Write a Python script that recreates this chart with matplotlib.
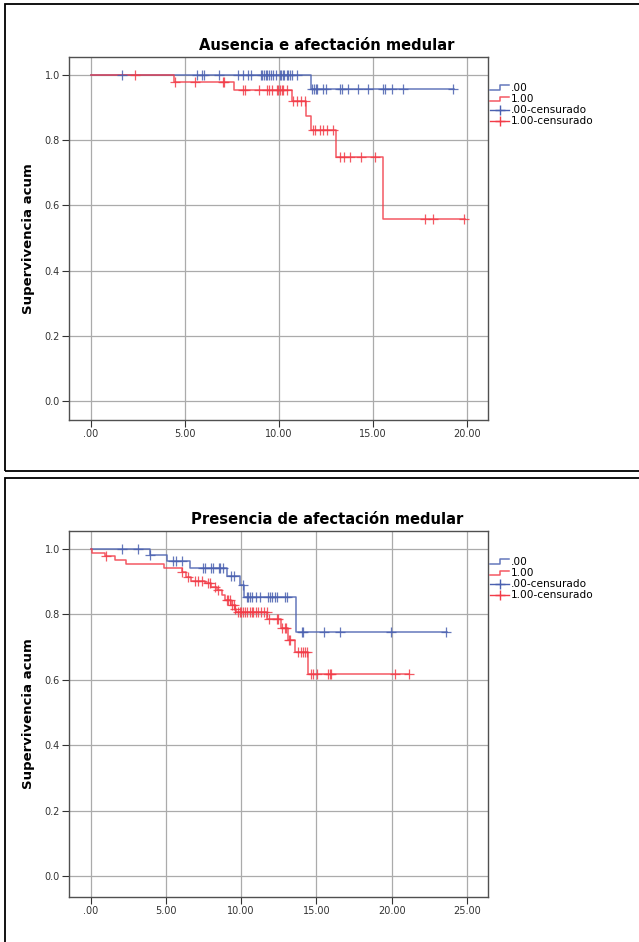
import numpy as np
import matplotlib
matplotlib.use("Agg")
import matplotlib.pyplot as plt
from matplotlib.lines import Line2D
from matplotlib.patches import Rectangle
from matplotlib.legend_handler import HandlerBase

plt.rcParams['font.family'] = ['DejaVu Sans']

# ---------------- Panel 1: Ausencia e afectación medular ----------------
aus_g0_times = [0.0, 11.70]
aus_g0_surv = [1.0, 0.957]
aus_g0_end = 19.3
aus_g0_cens = [1.65, 5.65, 5.90, 6.05, 6.80, 7.85, 8.10, 8.35, 8.55, 9.05, 9.12,
               9.20, 9.30, 9.40, 9.50, 9.60, 9.70, 9.85, 10.05, 10.12, 10.20,
               10.30, 10.42, 10.50, 10.60, 10.72, 10.98, 11.78, 11.87, 11.96,
               12.05, 12.37, 12.49, 13.25, 13.34, 13.69, 14.23, 14.76, 15.52,
               15.64, 16.00, 16.62, 19.27]

aus_g1_times = [0.0, 4.43, 7.62, 10.68, 11.45, 11.69, 13.04, 15.52]
aus_g1_surv = [1.0, 0.979, 0.954, 0.920, 0.874, 0.831, 0.748, 0.558]
aus_g1_end = 19.9
aus_g1_cens = [2.36, 4.50, 5.55, 7.05, 7.10, 8.12, 8.20, 8.96, 9.39, 9.50, 9.62,
               9.89, 9.98, 10.06, 10.15, 10.24, 10.42, 10.78, 10.98, 11.16,
               11.39, 11.84, 11.92, 12.19, 12.37, 12.54, 12.86, 13.25, 13.45,
               13.80, 14.38, 15.10, 17.77, 18.18, 19.86]

# ---------------- Panel 2: Presencia de afectación medular ----------------
pre_g0_times = [0.0, 3.94, 5.07, 6.58, 9.06, 9.95, 10.20, 13.67]
pre_g0_surv = [1.0, 0.982, 0.962, 0.941, 0.918, 0.889, 0.853, 0.747]
pre_g0_end = 23.65
pre_g0_cens = [2.06, 3.12, 3.94, 5.49, 5.65, 6.10, 7.50, 7.60, 8.00, 8.14, 8.50,
               8.62, 8.81, 9.30, 9.52, 10.10, 10.36, 10.47, 10.58, 10.73, 10.96,
               11.26, 11.77, 11.92, 12.08, 12.26, 12.38, 12.90, 13.03, 14.05,
               14.12, 15.53, 16.58, 19.98, 23.63]

pre_g1_times = [0.0, 0.07, 0.95, 1.62, 2.33, 4.87, 6.04, 6.37, 6.66, 7.59, 8.03,
                8.37, 8.70, 8.92, 9.36, 9.58, 9.69, 11.75, 12.63, 13.12, 13.56,
                14.45]
pre_g1_surv = [1.0, 0.989, 0.979, 0.966, 0.954, 0.941, 0.929, 0.915, 0.903,
               0.895, 0.885, 0.875, 0.859, 0.844, 0.829, 0.818, 0.806, 0.785,
               0.759, 0.722, 0.686, 0.619]
pre_g1_end = 21.15
pre_g1_cens = [1.00, 6.10, 6.45, 6.93, 7.15, 7.37, 7.77, 7.92, 8.25, 8.45, 9.03,
               9.14, 9.25, 9.40, 9.50, 9.62, 9.76, 9.91, 10.00, 10.13, 10.25,
               10.42, 10.58, 10.69, 10.80, 11.02, 11.13, 11.35, 11.53, 11.69,
               11.82, 12.35, 12.46, 12.72, 12.90, 13.01, 13.18, 13.25, 13.78,
               13.96, 14.11, 14.23, 14.40, 14.63, 14.78, 15.05, 15.77, 15.89,
               16.00, 20.20, 21.15]

titles = ["Ausencia e afectación medular", "Presencia de afectación medular"]
y_label = "Supervivencia acum"
legend_labels = [".00", "1.00", ".00-censurado", "1.00-censurado"]
y_ticks = [0.0, 0.2, 0.4, 0.6, 0.8, 1.0]
y_tick_labels = ["0.0", "0.2", "0.4", "0.6", "0.8", "1.0"]
x_ticks_top = [0, 5, 10, 15, 20]
x_tick_labels_top = [".00", "5.00", "10.00", "15.00", "20.00"]
x_ticks_bottom = [0, 5, 10, 15, 20, 25]
x_tick_labels_bottom = [".00", "5.00", "10.00", "15.00", "20.00", "25.00"]

BLUE = "#4a60b0"
RED = "#f23c48"

W, H = 639, 942
fig = plt.figure(figsize=(W / 100, H / 100), dpi=100)


def fx(px):
    return px / W


def fy(py):
    return 1 - py / H


class StepHandler(HandlerBase):
    def create_artists(self, legend, orig_handle, xdescent, ydescent,
                       width, height, fontsize, trans):
        x0 = -xdescent
        y0 = -ydescent
        xs = [x0, x0 + 0.55 * width, x0 + 0.55 * width, x0 + width]
        ys = [y0 + 0.2 * height, y0 + 0.2 * height, y0 + 0.75 * height, y0 + 0.75 * height]
        ln = Line2D(xs, ys, color=orig_handle.get_color(),
                    lw=orig_handle.get_linewidth(), alpha=orig_handle.get_alpha())
        ln.set_transform(trans)
        return [ln]


def km_curve(ax, times, surv, end, cens, color):
    t = np.asarray(times, dtype=float)
    s = np.asarray(surv, dtype=float)
    xs = np.append(t, end)
    ys = np.append(s, s[-1])
    ax.step(xs, ys, where='post', color=color, lw=1.1, alpha=0.85, zorder=3)
    c = np.asarray(cens, dtype=float)
    idx = np.searchsorted(t, c, side='right') - 1
    ax.plot(c, s[idx], linestyle='none', marker='+', markersize=6.5,
            markeredgewidth=0.9, color=color, alpha=0.85, zorder=4)


def style_axes(ax, xticks, xlabels, xlim, ylim):
    ax.set_xlim(*xlim)
    ax.set_ylim(*ylim)
    ax.set_xticks(xticks)
    ax.set_xticklabels(xlabels)
    ax.set_yticks(y_ticks)
    ax.set_yticklabels(y_tick_labels)
    ax.grid(True, color="#ababab", lw=0.9)
    ax.set_axisbelow(True)
    ax.tick_params(direction='out', length=5, width=0.8, labelsize=7,
                   colors="#333333", pad=1.5)
    for sp in ax.spines.values():
        sp.set_color("#505050")
        sp.set_linewidth(1.0)
    ax.set_ylabel(y_label, fontsize=9.5, fontweight='bold', color='black')
    ax.yaxis.set_label_coords(-0.096, 0.5)
    ax.yaxis.label.set_verticalalignment('center')


panels = [
    dict(top=57, bottom=420, title_y=45, legend_y=83,
         xticks=x_ticks_top, xlabels=x_tick_labels_top, xlim=(-1.148, 21.12),
         ylim=(-0.058, 1.055),
         curves=[(aus_g0_times, aus_g0_surv, aus_g0_end, aus_g0_cens, BLUE),
                 (aus_g1_times, aus_g1_surv, aus_g1_end, aus_g1_cens, RED)]),
    dict(top=531, bottom=897, title_y=520, legend_y=557,
         xticks=x_ticks_bottom, xlabels=x_tick_labels_bottom, xlim=(-1.435, 26.4),
         ylim=(-0.064, 1.055),
         curves=[(pre_g0_times, pre_g0_surv, pre_g0_end, pre_g0_cens, BLUE),
                 (pre_g1_times, pre_g1_surv, pre_g1_end, pre_g1_cens, RED)]),
]

for title, p in zip(titles, panels):
    ax = fig.add_axes([fx(69), fy(p['bottom']), fx(488 - 69),
                       (p['bottom'] - p['top']) / H])
    for times, surv, end, cens, color in p['curves']:
        km_curve(ax, times, surv, end, cens, color)
    style_axes(ax, p['xticks'], p['xlabels'], p['xlim'], p['ylim'])
    fig.text(fx(327), fy(p['title_y']), title, ha='center', va='center',
             fontsize=10.6, fontweight='bold')

    handles = [
        Line2D([], [], color=BLUE, lw=1.1, alpha=0.85),
        Line2D([], [], color=RED, lw=1.1, alpha=0.85),
        Line2D([], [], color=BLUE, lw=1.0, marker='+', markersize=7, mew=1.0),
        Line2D([], [], color=RED, lw=1.0, marker='+', markersize=7, mew=1.0),
    ]
    hmap = {handles[0]: StepHandler(), handles[1]: StepHandler()}
    fig.legend(handles, legend_labels, handler_map=hmap, loc='upper left',
               bbox_to_anchor=(fx(490), fy(p['legend_y'])), frameon=False,
               fontsize=7.6, handlelength=1.8, handletextpad=0.2,
               labelspacing=0.11, borderpad=0, borderaxespad=0)

# panel frames
fig.add_artist(Rectangle((fx(5.3), fy(471)), 1.2, fy(3.5) - fy(471),
                         transform=fig.transFigure, fill=False,
                         edgecolor='black', lw=1.3))
fig.add_artist(Rectangle((fx(5.3), fy(960)), 1.2, fy(477.7) - fy(960),
                         transform=fig.transFigure, fill=False,
                         edgecolor='black', lw=1.3))

fig.savefig("out.png", dpi=100, facecolor='white')
